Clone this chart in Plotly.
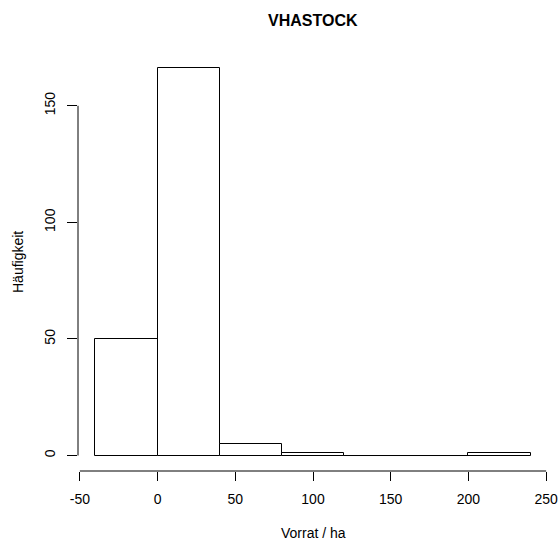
import plotly.graph_objects as go

# Histogram of stock per hectare: bin edges and counts
bin_edges = [-40, 0, 40, 80, 120, 160, 200, 240]
counts = [50, 166, 5, 1, 0, 0, 1]

x_ticks = [-50, 0, 50, 100, 150, 200, 250]
y_ticks = [0, 50, 100, 150]

title_text = "VHASTOCK"
x_label = "Vorrat / ha"
y_label = "Häufigkeit"

centers = [(a + b) / 2 for a, b in zip(bin_edges[:-1], bin_edges[1:])]
widths = [b - a for a, b in zip(bin_edges[:-1], bin_edges[1:])]

FONT = "Liberation Sans, Arial, sans-serif"

fig = go.Figure()
fig.add_trace(go.Bar(
    x=centers, y=counts, width=widths,
    marker=dict(color="white", line=dict(color="black", width=1)),
    hoverinfo="x+y",
))

# baseline under empty bins, as base R draws them
for c, w, n in zip(centers, widths, counts):
    if n == 0:
        fig.add_shape(type="line", xref="x", yref="y",
                      x0=c - w / 2, x1=c + w / 2, y0=0, y1=0,
                      line=dict(color="black", width=1))

# R-style axis lines that only span the tick range
fig.add_shape(type="line", xref="x", yref="paper",
              x0=x_ticks[0], x1=x_ticks[-1], y0=0, y1=0,
              line=dict(color="black", width=1))
fig.add_shape(type="line", xref="paper", yref="y",
              x0=0, x1=0, y0=y_ticks[0], y1=y_ticks[-1],
              line=dict(color="black", width=1))

x_pad = 0.04 * (bin_edges[-1] - bin_edges[0])
y_pad = 0.04 * max(counts)

fig.update_layout(
    width=558, height=547,
    margin=dict(l=78, r=10, t=53, b=76, pad=0, autoexpand=False),
    paper_bgcolor="white", plot_bgcolor="white",
    showlegend=False,
    font=dict(family=FONT, size=14, color="black"),
    bargap=0,
    xaxis=dict(
        range=[bin_edges[0] - x_pad, bin_edges[-1] + x_pad],
        tickvals=x_ticks, ticktext=[str(v) for v in x_ticks],
        ticks="outside", ticklen=9, tickwidth=1, tickcolor="black",
        showgrid=False, zeroline=False, showline=False,
        ticklabelstandoff=6, ticklabeloverflow="allow", automargin=False,
        tickfont=dict(size=14),
    ),
    yaxis=dict(
        range=[-y_pad, max(counts) + y_pad],
        tickvals=y_ticks, ticktext=[str(v) for v in y_ticks],
        ticks="outside", ticklen=10, tickwidth=1, tickcolor="black",
        tickangle=-90,
        showgrid=False, zeroline=False, showline=False,
        ticklabelstandoff=6, ticklabeloverflow="allow", automargin=False,
        tickfont=dict(size=14),
    ),
    annotations=[
        dict(text="<b>" + title_text + "</b>", xref="paper", yref="paper",
             x=0.5, y=1, yshift=33, xanchor="center", yanchor="middle",
             showarrow=False, font=dict(size=16, family=FONT)),
        dict(text=x_label, xref="paper", yref="paper",
             x=0.5, y=0, yshift=-62, xanchor="center", yanchor="middle",
             showarrow=False, font=dict(size=14, family=FONT)),
        dict(text=y_label, xref="paper", yref="paper",
             x=0, y=0.5, xshift=-60, xanchor="center", yanchor="middle",
             textangle=-90, showarrow=False, font=dict(size=14, family=FONT)),
    ],
)

fig.write_html("out.html")
